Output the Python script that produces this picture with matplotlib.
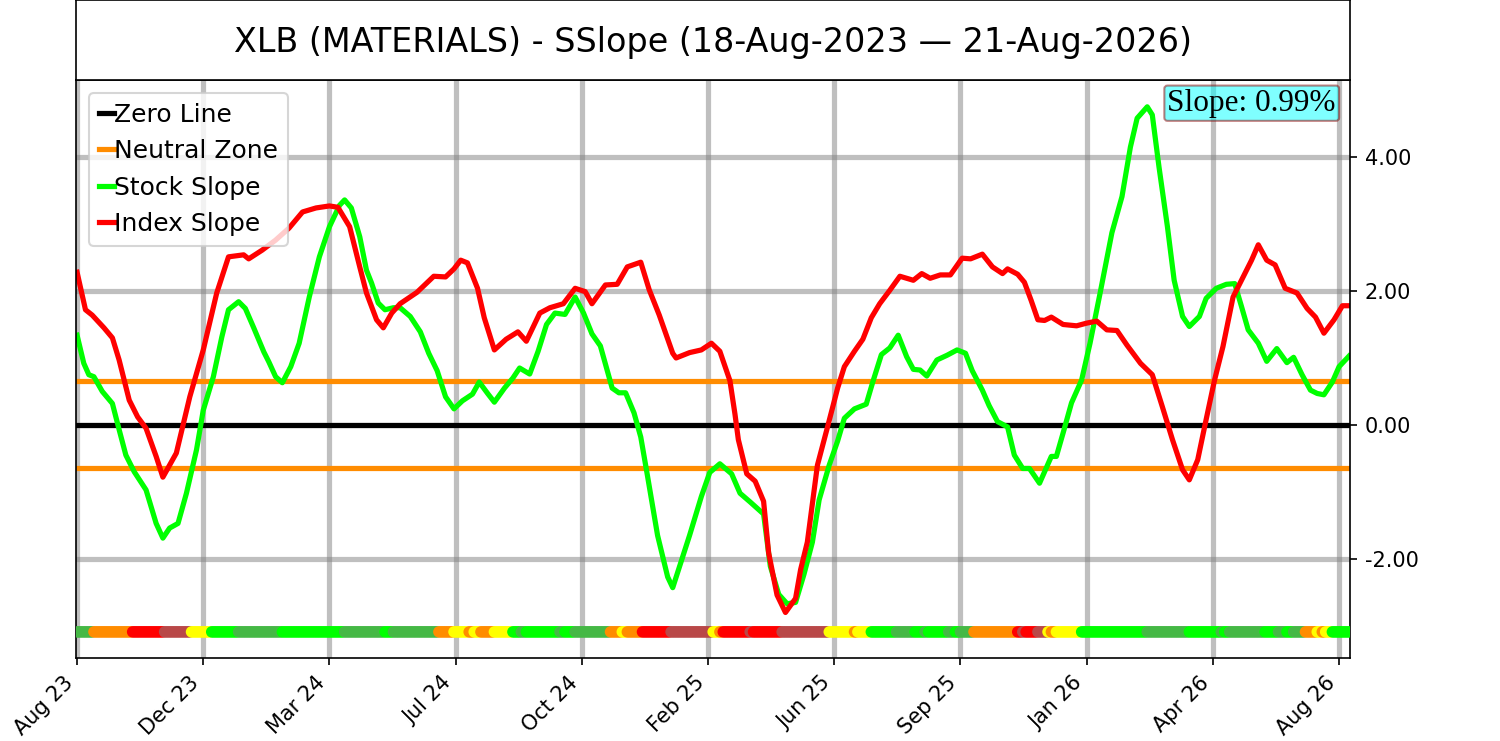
import numpy as np
import matplotlib
matplotlib.use('Agg')
import matplotlib.pyplot as plt

# ---- データ (取引日インデックス, 値) ----
title = 'XLB (MATERIALS) - SSlope (18-Aug-2023 \u2014 21-Aug-2026)'
slope_text = 'Slope: 0.99%'
n_days = 757

tick_pos = [0, 75, 150, 225, 300, 375, 450, 525, 600, 675, 750]
tick_labels = ['Aug 23', 'Dec 23', 'Mar 24', 'Jul 24', 'Oct 24', 'Feb 25',
               'Jun 25', 'Sep 25', 'Jan 26', 'Apr 26', 'Aug 26']
ytick_vals = [-2, 0, 2, 4]

neutral = 0.65

index_x = [0, 5, 9, 16, 21, 25, 31, 36, 41, 47, 51, 59, 67, 75, 83, 90, 99, 102,
           110, 118, 126, 134, 142, 150, 155, 162, 168, 172, 178, 182, 187, 192,
           202, 212, 219, 224, 228, 232, 238, 242, 248, 255, 262, 267, 275, 281,
           289, 296, 302, 306, 314, 321, 327, 335, 340, 346, 354, 356, 364, 371,
           377, 382, 388, 391, 393, 398, 403, 408, 411, 416, 421, 427, 430, 434,
           440, 446, 452, 456, 462, 467, 472, 477, 483, 489, 497, 502, 507, 513,
           519, 526, 531, 538, 544, 550, 553, 559, 563, 567, 571, 575, 579, 586,
           594, 600, 606, 612, 618, 624, 632, 639, 645, 651, 657, 661, 666, 671,
           676, 681, 687, 693, 698, 702, 707, 712, 718, 725, 731, 736, 741, 747,
           752, 756]
index_y = [2.28, 1.72, 1.64, 1.45, 1.30, 0.97, 0.37, 0.12, -0.05, -0.47, -0.78,
           -0.42, 0.42, 1.12, 1.97, 2.51, 2.54, 2.48, 2.61, 2.76, 2.94, 3.18,
           3.24, 3.27, 3.25, 2.96, 2.36, 1.97, 1.57, 1.45, 1.67, 1.81, 1.98, 2.22,
           2.21, 2.33, 2.46, 2.42, 2.04, 1.60, 1.12, 1.28, 1.39, 1.25, 1.67, 1.75,
           1.81, 2.04, 1.99, 1.81, 2.09, 2.10, 2.36, 2.43, 2.02, 1.64, 1.07, 1.00,
           1.08, 1.12, 1.22, 1.10, 0.66, 0.16, -0.22, -0.73, -0.84, -1.14, -1.91,
           -2.54, -2.80, -2.59, -2.16, -1.75, -0.60, -0.03, 0.55, 0.87, 1.10,
           1.28, 1.60, 1.81, 2.01, 2.22, 2.16, 2.26, 2.19, 2.24, 2.24, 2.49, 2.48,
           2.55, 2.36, 2.26, 2.33, 2.25, 2.13, 1.86, 1.57, 1.56, 1.61, 1.50, 1.48,
           1.52, 1.55, 1.42, 1.41, 1.19, 0.92, 0.75, 0.27, -0.22, -0.67, -0.82,
           -0.52, 0.08, 0.67, 1.17, 1.91, 2.21, 2.46, 2.69, 2.46, 2.39, 2.04, 1.97,
           1.74, 1.61, 1.37, 1.57, 1.78, 1.78]

stock_x = [0, 4, 7, 10, 15, 21, 25, 29, 34, 41, 47, 51, 55, 60, 65, 71, 75, 81,
           86, 90, 96, 100, 105, 111, 114, 118, 122, 127, 132, 138, 144, 150, 156,
           159, 163, 168, 172, 175, 179, 183, 188, 192, 198, 204, 209, 214, 219,
           224, 229, 235, 239, 244, 248, 254, 259, 263, 269, 274, 279, 284, 290,
           296, 301, 306, 311, 318, 322, 326, 331, 335, 339, 345, 351, 354, 358,
           364, 371, 376, 382, 389, 394, 400, 408, 412, 417, 422, 427, 432, 437,
           441, 447, 452, 456, 462, 469, 473, 478, 483, 488, 493, 497, 501, 505,
           511, 517, 523, 528, 532, 538, 542, 547, 553, 557, 562, 566, 572, 579,
           582, 586, 591, 597, 602, 608, 615, 621, 626, 630, 636, 639, 643, 648,
           652, 657, 661, 667, 671, 677, 683, 688, 692, 696, 702, 707, 713, 719,
           723, 728, 733, 737, 741, 746, 750, 756]
stock_y = [1.34, 0.92, 0.75, 0.72, 0.50, 0.32, -0.07, -0.45, -0.70, -0.97, -1.47,
           -1.69, -1.54, -1.47, -1.02, -0.37, 0.22, 0.72, 1.31, 1.72, 1.84, 1.74,
           1.45, 1.09, 0.94, 0.72, 0.63, 0.87, 1.22, 1.91, 2.51, 2.96, 3.28, 3.36,
           3.24, 2.81, 2.31, 2.12, 1.82, 1.72, 1.75, 1.75, 1.62, 1.39, 1.07, 0.81,
           0.42, 0.24, 0.36, 0.46, 0.64, 0.47, 0.34, 0.55, 0.70, 0.85, 0.76, 1.10,
           1.50, 1.67, 1.65, 1.91, 1.67, 1.36, 1.18, 0.55, 0.48, 0.48, 0.18, -0.18,
           -0.76, -1.65, -2.27, -2.43, -2.12, -1.65, -1.07, -0.71, -0.58, -0.73,
           -1.02, -1.15, -1.33, -2.11, -2.53, -2.67, -2.65, -2.23, -1.75, -1.12,
           -0.60, -0.24, 0.10, 0.24, 0.31, 0.65, 1.05, 1.15, 1.34, 1.02, 0.83, 0.82,
           0.73, 0.97, 1.04, 1.12, 1.07, 0.81, 0.52, 0.29, 0.05, -0.03, -0.45,
           -0.65, -0.65, -0.87, -0.47, -0.47, -0.12, 0.33, 0.67, 1.22, 1.97, 2.87,
           3.41, 4.15, 4.58, 4.75, 4.63, 3.85, 2.96, 2.16, 1.62, 1.47, 1.62, 1.89,
           2.04, 2.10, 2.11, 1.77, 1.42, 1.22, 0.95, 1.14, 0.93, 1.01, 0.75, 0.52,
           0.47, 0.45, 0.64, 0.87, 1.03]

# 下段の状態ドット (開始インデックスと状態)
strip_start = [0, 10, 33, 52, 68, 80, 96, 122, 159, 183, 188, 215, 224, 233, 236,
               240, 248, 259, 264, 267, 287, 290, 296, 317, 324, 327, 336, 353,
               378, 382, 384, 400, 402, 419, 447, 462, 464, 472, 487, 498, 504,
               506, 518, 522, 525, 533, 559, 562, 564, 571, 577, 579, 582, 597,
               636, 661, 680, 682, 685, 706, 714, 719, 723, 730, 737, 740, 742, 746]
strip_state = ['green', 'orange', 'red', 'brown', 'yellow', 'lime', 'green', 'lime',
               'green', 'lime', 'green', 'orange', 'yellow', 'orange', 'yellow',
               'orange', 'yellow', 'lime', 'green', 'lime', 'green', 'lime', 'green',
               'orange', 'yellow', 'orange', 'red', 'brown', 'yellow', 'orange', 'red',
               'brown', 'red', 'brown', 'yellow', 'orange', 'yellow', 'lime', 'green',
               'lime', 'green', 'lime', 'green', 'lime', 'green', 'orange', 'red',
               'brown', 'red', 'brown', 'yellow', 'orange', 'yellow', 'lime', 'green',
               'lime', 'green', 'lime', 'green', 'lime', 'green', 'lime', 'green',
               'orange', 'yellow', 'orange', 'yellow', 'lime']

state_colors = {'lime': '#00FF00', 'green': '#45B845', 'orange': '#FF8C00',
                'red': '#FF0000', 'brown': '#B94848', 'yellow': '#FFFF00'}

# ---- PLOT ----
fig = plt.figure(figsize=(10, 4.94), dpi=150)
ax = fig.add_axes([0.0507, 0.112, 0.8493, 0.780])
tax = fig.add_axes([0.0507, 0.892, 0.8493, 0.108])

tax.set_xticks([])
tax.set_yticks([])
tax.text(0.5, 0.47, title, ha='center', va='center', fontsize=16, transform=tax.transAxes)

ax.axhline(0, color='black', lw=2.5, label='Zero Line')
ax.axhline(neutral, color='#FF8C00', lw=2.5, label='Neutral Zone')
ax.axhline(-neutral, color='#FF8C00', lw=2.5)
ax.plot(stock_x, stock_y, color='#00FF00', lw=2.5, label='Stock Slope')
ax.plot(index_x, index_y, color='#FF0000', lw=2.5, label='Index Slope')

# 状態ドット
ends = strip_start[1:] + [n_days]
for s, e, st in zip(strip_start, ends, strip_state):
    xs = np.arange(s, e)
    ax.scatter(xs, np.full(len(xs), -3.09), s=30, color=state_colors[st],
               edgecolors='none', zorder=3)

ax.set_xlim(-0.6, 756.5)
ax.set_ylim(-3.48, 5.15)
ax.set_xticks(tick_pos)
ax.set_xticklabels(tick_labels, rotation=45, ha='right', fontsize=10)
ax.yaxis.tick_right()
ax.set_yticks(ytick_vals)
ax.set_yticklabels(['%.2f' % v for v in ytick_vals], fontsize=10)
ax.grid(True, color='gray', alpha=0.5, lw=2.5)

ax.legend(loc='upper left', fontsize=12, handlelength=0.6, handletextpad=0.0)

ax.text(0.989, 0.985, slope_text, transform=ax.transAxes, ha='right', va='top',
        fontsize=15, family='Liberation Serif',
        bbox=dict(boxstyle='round,pad=0.1', facecolor='cyan', alpha=0.5,
                  edgecolor='darkred'))

fig.savefig('out.png', dpi=150)
plt.close()
